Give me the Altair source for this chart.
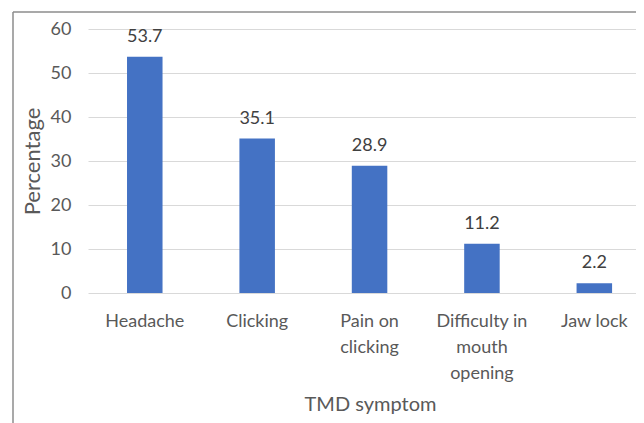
import altair as alt
import pandas as pd

categories = ["Headache", "Clicking", "Pain on\nclicking", "Difficulty in\nmouth\nopening", "Jaw lock"]
values = [53.7, 35.1, 28.9, 11.2, 2.2]
labels = ["53.7", "35.1", "28.9", "11.2", "2.2"]

df = pd.DataFrame({"symptom": categories, "pct": values, "label": labels})

FONT = "Lato"
W, H = 548, 264

xscale = alt.Scale(domain=categories, paddingInner=0.684, paddingOuter=0.28, align=0.62)
yscale = alt.Scale(domain=[0, 60], nice=False)

base = alt.Chart(df)

bars = base.mark_bar(color="#4472C4").encode(
    x=alt.X("symptom:N", scale=xscale, sort=categories,
            axis=alt.Axis(title="TMD symptom", labelAngle=0,
                          labelExpr="split(datum.value, '\\n')",
                          labelFont=FONT, labelFontSize=18, labelColor="#595959",
                          labelLineHeight=26, labelPadding=19, labelBaseline="top",
                          titleFont=FONT, titleFontSize=20, titleFontWeight="normal",
                          titleColor="#595959", titlePadding=12, titleX=282,
                          domain=False, ticks=False, grid=False)),
    y=alt.Y("pct:Q", scale=yscale,
            axis=alt.Axis(title="Percentage", values=[0, 10, 20, 30, 40, 50, 60],
                          labelFont=FONT, labelFontSize=18, labelColor="#595959",
                          labelPadding=17,
                          titleFont=FONT, titleFontSize=22, titleFontWeight="normal",
                          titleColor="#595959", titlePadding=6,
                          domain=False, ticks=False, grid=True,
                          gridColor="#d9d9d9", gridWidth=1)),
)

text = base.mark_text(font=FONT, fontSize=18, color="#404040",
                      baseline="alphabetic", dy=-15).encode(
    x=alt.X("symptom:N", scale=xscale, sort=categories),
    y=alt.Y("pct:Q", scale=yscale),
    text="label:N",
)

border_df = pd.DataFrame({"k": [0]})
top_border = alt.Chart(border_df).mark_rule(color="#8c8c8c", strokeWidth=1.5).encode(
    x=alt.value(-75), x2=alt.value(W), y=alt.value(-17))
left_border = alt.Chart(border_df).mark_rule(color="#8c8c8c", strokeWidth=1.5).encode(
    x=alt.value(-75), y=alt.value(-17), y2=alt.value(394))

chart = alt.layer(bars, text, top_border, left_border).properties(
    width=W, height=H,
    autosize=alt.AutoSizeParams(type="none"),
    padding={"left": 80, "top": 21, "right": 0, "bottom": 130},
    background="white",
).configure_view(stroke=None)

chart.save("out.html", embed_options={"renderer": "svg", "actions": False})
